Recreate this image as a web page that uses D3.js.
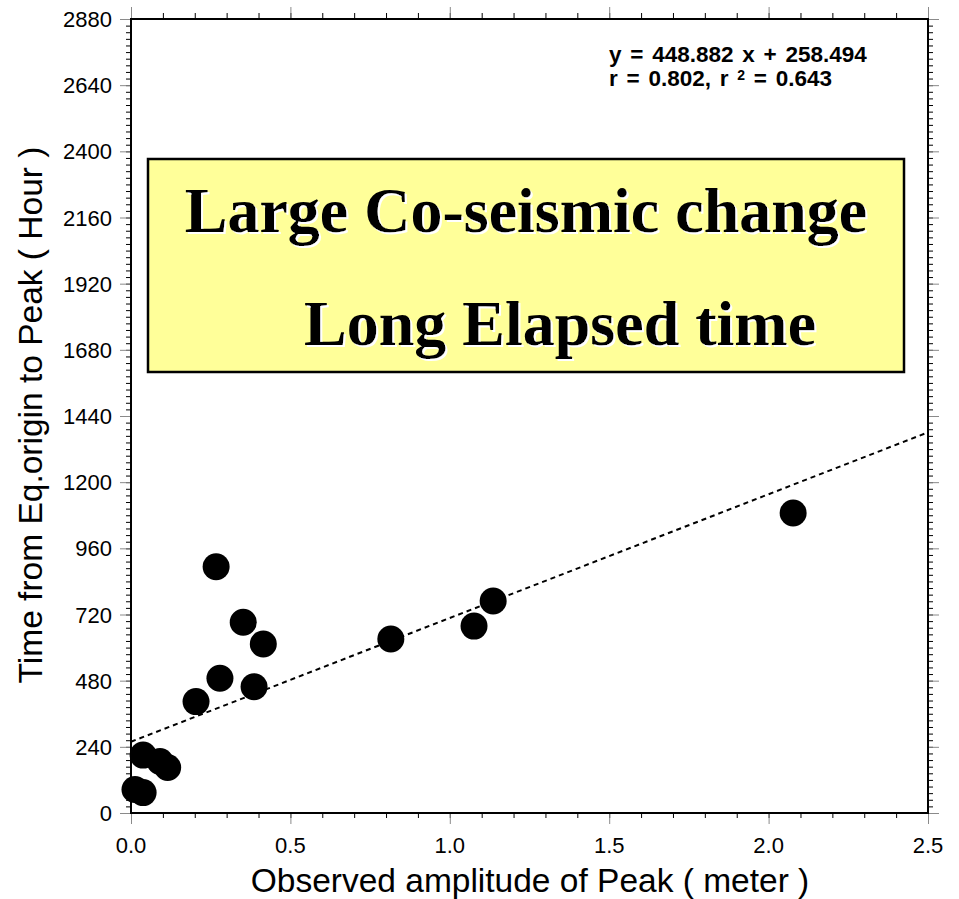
<!DOCTYPE html>
<html><head><meta charset="utf-8">
<script src="https://cdn.jsdelivr.net/npm/d3@7"></script>
<style>body{margin:0;background:#fff}svg{display:block}</style>
</head><body>
<script>
// Data
const amplitude = [0.0125, 0.038, 0.038, 0.091, 0.115, 0.204, 0.267, 0.279, 0.352, 0.386, 0.415, 0.815, 1.076, 1.136, 2.077];
const elapsedHours = [85, 74, 210, 187, 165, 404, 893, 489, 692, 458, 613, 631, 678, 769, 1088];
const xTickLabels = ["0.0", "0.5", "1.0", "1.5", "2.0", "2.5"];
const yTickLabels = ["0","240","480","720","960","1200","1440","1680","1920","2160","2400","2640","2880"];
const slope = 448.882, intercept = 258.494;
const eqLine1 = "y = 448.882 x + 258.494";
const bigText = ["Large Co-seismic change", "Long Elapsed time"];

const W = 959, H = 899;
const L = 131, R = 928, T = 19, B = 813;
const svg = d3.select("body").append("svg").attr("width", W).attr("height", H);

const defs = svg.append("defs");
const f = defs.append("filter").attr("id","wshadow").attr("x","-5%").attr("y","-20%").attr("width","110%").attr("height","140%");
f.append("feOffset").attr("in","SourceAlpha").attr("dx",2).attr("dy",2).attr("result","off");
f.append("feFlood").attr("flood-color","#fff").attr("result","white");
f.append("feComposite").attr("in","white").attr("in2","off").attr("operator","in").attr("result","sh");
const m = f.append("feMerge");
m.append("feMergeNode").attr("in","sh");
m.append("feMergeNode").attr("in","SourceGraphic");

const x = d3.scaleLinear().domain([0, 2.5]).range([L, R]);
const y = d3.scaleLinear().domain([0, 2880]).range([B, T]);

const minorX = d3.range(0, 2.5001, 0.1);
const minorY = d3.range(0, 2880.01, 24);
const majorX = xTickLabels.map(Number);
const majorY = yTickLabels.map(Number);

function styleAxis(g){ g.select(".domain").remove(); g.selectAll("text").remove(); }
// minor ticks
svg.append("g").attr("transform",`translate(0,${B})`).call(d3.axisBottom(x).tickValues(minorX).tickSize(5)).call(styleAxis).selectAll("line").attr("stroke","#000");
svg.append("g").attr("transform",`translate(0,${T})`).call(d3.axisTop(x).tickValues(minorX).tickSize(6)).call(styleAxis).selectAll("line").attr("stroke","#000");
svg.append("g").attr("transform",`translate(${L},0)`).call(d3.axisLeft(y).tickValues(minorY).tickSize(5)).call(styleAxis).selectAll("line").attr("stroke","#000");
svg.append("g").attr("transform",`translate(${R},0)`).call(d3.axisRight(y).tickValues(minorY).tickSize(5)).call(styleAxis).selectAll("line").attr("stroke","#000");
// major ticks
svg.append("g").attr("transform",`translate(0,${B})`).call(d3.axisBottom(x).tickValues(majorX).tickSize(11)).call(styleAxis).selectAll("line").attr("stroke","#8a8a8a");
svg.append("g").attr("transform",`translate(0,${T})`).call(d3.axisTop(x).tickValues(majorX).tickSize(12)).call(styleAxis).selectAll("line").attr("stroke","#8a8a8a");
svg.append("g").attr("transform",`translate(${L},0)`).call(d3.axisLeft(y).tickValues(majorY).tickSize(11)).call(styleAxis).selectAll("line").attr("stroke","#8a8a8a");
svg.append("g").attr("transform",`translate(${R},0)`).call(d3.axisRight(y).tickValues(majorY).tickSize(11)).call(styleAxis).selectAll("line").attr("stroke","#8a8a8a");

// tick labels
const tf = "Liberation Sans, Arial, sans-serif";
svg.append("g").selectAll("text").data(xTickLabels).join("text")
  .attr("x", d => x(+d)).attr("y", 853).attr("text-anchor","middle")
  .attr("font-family", tf).attr("font-size", 22).text(d => d);
svg.append("g").selectAll("text").data(yTickLabels).join("text")
  .attr("x", 112).attr("y", d => y(+d) + 8).attr("text-anchor","end")
  .attr("font-family", tf).attr("font-size", 22).text(d => d);

// frame
svg.append("rect").attr("x", L).attr("y", T).attr("width", R - L).attr("height", B - T)
  .attr("fill","none").attr("stroke","#000").attr("stroke-width",2);

// regression line
svg.append("line").attr("x1", x(0)).attr("y1", y(intercept))
  .attr("x2", x(2.5)).attr("y2", y(slope*2.5 + intercept))
  .attr("stroke","#000").attr("stroke-width",2).attr("stroke-dasharray","5,4");

// points
svg.append("g").selectAll("circle").data(amplitude).join("circle")
  .attr("cx", d => x(d)).attr("cy", (d,i) => y(elapsedHours[i])).attr("r", 13.5).attr("fill","#000");

// equation
svg.append("text").attr("x", 609).attr("y", 62).attr("font-family", tf).attr("font-weight","bold")
  .attr("font-size", 22.5).attr("word-spacing", 2.5).text(eqLine1);
const t2 = svg.append("text").attr("x", 609).attr("y", 86).attr("font-family", tf).attr("font-weight","bold")
  .attr("font-size", 22.5).attr("word-spacing", 2.5);
t2.append("tspan").text("r = 0.802, r ");
t2.append("tspan").attr("dy", -6).attr("font-size", 14).text("2");
t2.append("tspan").attr("dy", 6).text(" = 0.643");

// yellow box
svg.append("rect").attr("x", 148).attr("y", 159).attr("width", 756).attr("height", 213)
  .attr("fill","#FFFF99").attr("stroke","#000").attr("stroke-width",2.5);
const sf = "Liberation Serif, Times New Roman, serif";
const bx = [[526, 232, "middle"], [304, 345, "start"]];
bigText.forEach((s, i) => {
  svg.append("text").attr("x", bx[i][0]).attr("y", bx[i][1]).attr("text-anchor", bx[i][2])
    .attr("font-family", sf).attr("font-weight","bold").attr("font-size", 64).attr("fill","#000")
    .attr("filter","url(#wshadow)").text(s);
});

// axis titles
svg.append("text").attr("x", 530).attr("y", 892).attr("text-anchor","middle")
  .attr("font-family", tf).attr("font-size", 33.5).text("Observed amplitude of Peak ( meter )");
svg.append("text").attr("transform","translate(42,415) rotate(-90)").attr("text-anchor","middle")
  .attr("font-family", tf).attr("font-size", 33.5).text("Time from Eq.origin to Peak ( Hour )");
</script>
</body></html>
